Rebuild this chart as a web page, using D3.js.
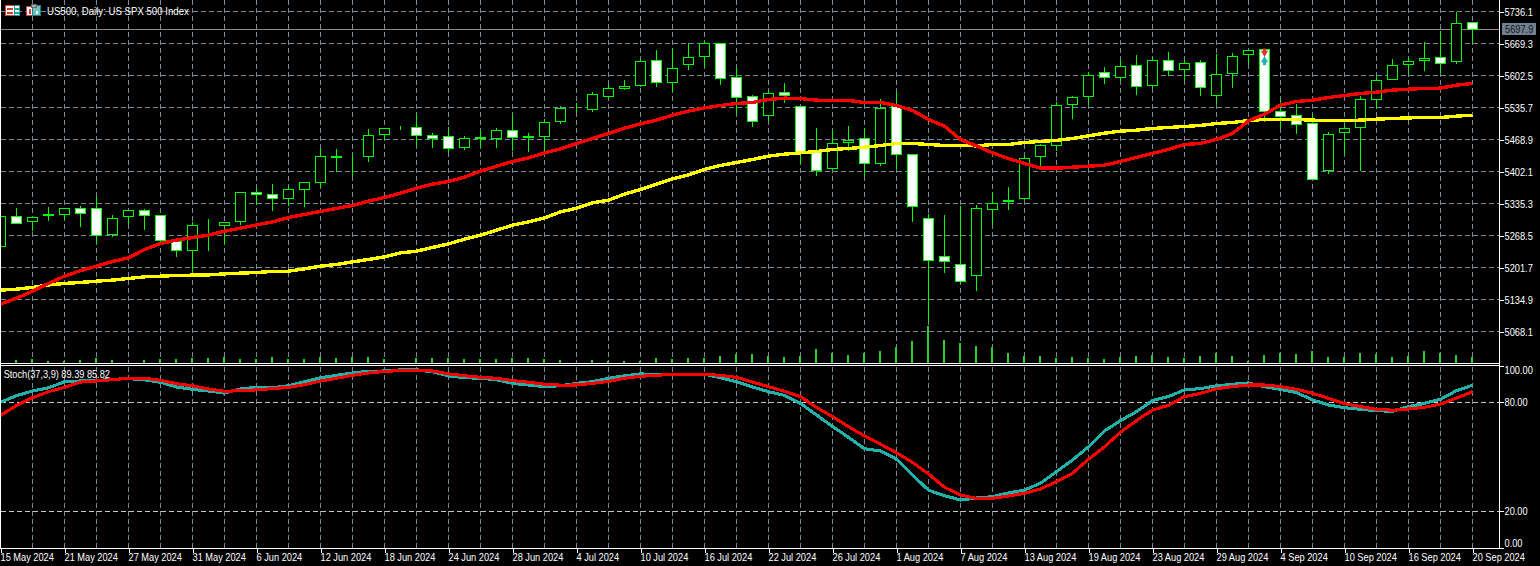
<!DOCTYPE html>
<html>
<head>
<meta charset="utf-8">
<script src="https://d3js.org/d3.v7.min.js"></script>
<style>
html,body{margin:0;padding:0;background:#000;overflow:hidden}
svg{display:block}
text{font-family:"Liberation Sans",Arial,sans-serif;font-size:11px}
</style>
</head>
<body>
<svg id="c" width="1540" height="566"></svg>
<script>
const dateLabels=["15 May 2024","21 May 2024","27 May 2024","31 May 2024","6 Jun 2024","12 Jun 2024","18 Jun 2024","24 Jun 2024","28 Jun 2024","4 Jul 2024","10 Jul 2024","16 Jul 2024","22 Jul 2024","26 Jul 2024","1 Aug 2024","7 Aug 2024","13 Aug 2024","19 Aug 2024","23 Aug 2024","29 Aug 2024","4 Sep 2024","10 Sep 2024","16 Sep 2024","20 Sep 2024"];
const priceTicks=[5736.1,5669.3,5602.5,5535.7,5468.9,5402.1,5335.3,5268.5,5201.7,5134.9,5068.1];
const stochTicks=[100,80,20,0];
const lastPrice=5697.9;
const openP=[5244.8,5307.4,5297.8,5309.9,5312.4,5324.9,5324.9,5269.8,5307.4,5320.8,5310.3,5256.7,5237.2,5291.0,5288.6,5297.0,5358.3,5354.2,5344.9,5363.8,5378.4,5434.1,5429.0,5433.5,5479.4,5493.8,5494.0,5477.3,5474.4,5452.3,5470.6,5470.2,5487.8,5472.8,5474.4,5505.7,5533.5,5530.8,5557.9,5574.6,5580.9,5633.9,5587.1,5624.7,5641.4,5669.3,5598.4,5558.7,5518.2,5567.1,5537.0,5443.9,5407.6,5461.9,5471.1,5418.8,5538.5,5437.6,5304.0,5224.7,5208.0,5185.1,5322.8,5339.8,5345.8,5433.1,5456.0,5541.2,5557.9,5608.8,5598.4,5623.4,5580.9,5633.9,5614.3,5629.7,5560.0,5605.9,5645.6,5656.8,5527.4,5519.0,5501.9,5403.4,5482.7,5494.0,5552.5,5593.4,5625.5,5633.0,5640.1,5631.0,5713.2];
const closeP=[5308.9,5294.2,5306.1,5312.0,5324.9,5314.5,5268.6,5304.0,5320.8,5310.3,5258.1,5237.2,5289.4,5291.5,5295.7,5358.3,5353.3,5344.9,5364.6,5379.2,5433.5,5431.4,5429.3,5477.3,5491.9,5494.0,5476.5,5470.2,5450.2,5471.1,5472.6,5487.8,5473.1,5474.9,5504.4,5533.7,5534.0,5562.9,5575.4,5579.6,5631.8,5587.1,5617.2,5640.1,5669.3,5596.3,5555.8,5505.7,5565.0,5561.4,5442.5,5404.2,5460.6,5466.9,5418.8,5534.3,5437.6,5329.1,5216.4,5213.4,5172.5,5324.9,5334.5,5341.9,5429.3,5456.4,5539.9,5556.6,5602.6,5598.4,5621.3,5579.6,5633.9,5612.2,5627.6,5577.5,5604.7,5642.2,5654.7,5527.4,5516.1,5499.4,5385.0,5479.4,5491.9,5552.5,5592.1,5623.4,5631.8,5638.0,5627.6,5711.1,5697.9];
const highP=[5317.2,5327.0,5306.8,5329.7,5325.5,5331.8,5350.6,5313.0,5321.4,5325.5,5310.3,5264.4,5297.8,5304.0,5298.4,5361.0,5368.8,5377.7,5372.9,5381.3,5450.2,5450.2,5439.7,5492.5,5492.5,5498.8,5523.2,5484.2,5495.3,5477.3,5490.5,5494.0,5523.2,5484.2,5513.4,5540.6,5545.4,5569.8,5585.9,5594.2,5638.0,5657.5,5661.0,5671.5,5673.5,5671.5,5620.5,5562.9,5573.3,5588.6,5538.5,5494.6,5489.8,5498.2,5493.2,5555.2,5569.2,5440.4,5314.5,5313.0,5331.8,5333.9,5359.6,5371.5,5436.2,5461.2,5548.3,5561.4,5610.1,5622.0,5636.0,5647.0,5641.4,5653.3,5636.0,5636.6,5648.5,5651.2,5658.1,5659.5,5554.5,5544.1,5523.2,5486.3,5500.9,5560.0,5603.2,5638.7,5641.4,5673.5,5696.5,5736.1,5713.2];
const lowP=[5244.0,5294.2,5279.6,5300.5,5302.6,5288.0,5254.6,5267.1,5294.2,5281.7,5254.6,5225.3,5192.6,5236.4,5250.4,5292.2,5332.4,5319.9,5330.4,5328.2,5370.0,5401.3,5393.0,5422.2,5469.6,5490.5,5455.6,5451.4,5443.1,5447.2,5453.5,5452.9,5446.6,5444.5,5445.2,5501.5,5528.0,5528.0,5555.8,5572.5,5579.6,5578.8,5568.3,5615.7,5622.0,5584.4,5523.2,5496.7,5507.8,5545.4,5418.8,5393.0,5405.5,5445.2,5394.5,5415.3,5408.4,5296.9,5088.2,5190.5,5167.5,5152.9,5290.7,5322.0,5342.9,5413.2,5445.2,5512.0,5542.6,5585.0,5591.3,5562.1,5577.5,5603.2,5593.4,5560.0,5543.3,5578.2,5626.2,5505.7,5494.0,5480.7,5385.0,5397.1,5440.4,5404.9,5532.8,5593.4,5605.9,5613.6,5608.0,5628.2,5671.5];
const volumeV=[0,3,4,2,2,3,5,3,0,3,4,4,5,5,6,4,4,6,4,4,6,5,6,6,4,0,5,5,5,4,4,4,5,5,4,3,0,3,2,2,2,5,4,5,5,7,9,9,7,6,7,14,10,8,10,12,16,22,37,23,20,17,16,10,7,7,5,6,5,4,6,7,8,6,5,7,10,7,2,8,10,9,12,6,6,10,9,6,7,12,10,8,6];
const maRed=[5125.2,5137.7,5152.3,5168.4,5183.6,5195.1,5204.5,5214.3,5221.8,5239.3,5251.9,5258.8,5264.4,5269.2,5277.5,5283.8,5290.7,5296.9,5306.1,5312.4,5318.7,5324.9,5331.2,5340.2,5348.1,5356.8,5367.3,5375.6,5381.3,5390.3,5402.8,5413.2,5423.0,5430.5,5441.0,5449.3,5460.6,5471.1,5481.5,5492.5,5501.5,5509.3,5519.7,5528.0,5534.9,5539.9,5544.1,5546.2,5552.5,5555.2,5554.5,5551.0,5550.4,5550.4,5546.2,5546.2,5539.9,5529.5,5510.7,5496.7,5468.9,5455.6,5441.0,5429.3,5418.8,5409.0,5409.0,5411.1,5413.2,5415.3,5423.0,5431.4,5439.7,5448.1,5458.5,5460.6,5468.9,5481.5,5507.8,5521.8,5540.6,5548.3,5551.0,5556.6,5560.8,5565.0,5567.7,5571.9,5574.0,5575.4,5576.1,5582.3,5585.9];
const maYellow=[5154.4,5156.5,5160.0,5165.4,5168.4,5170.5,5173.2,5175.3,5178.8,5182.2,5183.6,5185.1,5185.7,5186.3,5188.4,5189.9,5191.3,5193.4,5194.0,5198.8,5204.5,5208.0,5213.4,5218.5,5223.9,5232.2,5235.8,5243.5,5251.0,5260.8,5269.2,5279.6,5290.1,5296.9,5305.3,5317.8,5325.5,5336.6,5342.3,5354.8,5364.6,5375.6,5386.7,5395.0,5406.3,5414.7,5420.9,5427.2,5434.1,5438.3,5441.0,5443.9,5448.1,5450.2,5452.9,5456.4,5460.6,5460.6,5458.5,5456.4,5456.4,5455.6,5458.5,5458.5,5462.7,5464.8,5467.1,5471.1,5476.5,5482.1,5486.3,5488.4,5491.9,5494.0,5496.1,5498.2,5502.3,5504.4,5508.6,5510.7,5510.7,5510.7,5509.3,5508.6,5508.6,5509.3,5511.3,5512.8,5514.0,5514.9,5514.9,5517.6,5519.7];
const stochMain=[80.0,83.6,86.2,87.9,91.3,91.7,91.9,92.6,93.0,92.3,91.0,88.4,87.1,86.2,85.0,87.3,88.2,88.0,89.1,91.3,93.5,94.8,96.1,97.0,97.2,97.8,97.9,96.7,94.5,93.5,93.2,92.4,90.4,89.5,88.6,89.1,90.4,91.3,93.2,94.5,95.6,95.2,95.4,95.4,95.4,93.5,91.3,88.4,85.8,83.8,79.4,73.0,66.6,60.7,54.4,53.2,48.6,39.9,31.6,28.6,26.2,27.3,28.0,30.1,31.7,35.4,41.8,48.2,55.5,64.2,69.9,74.8,80.9,83.1,86.8,87.5,89.0,89.9,90.6,88.6,87.1,85.3,81.3,78.5,77.0,76.1,75.4,75.0,77.6,79.4,81.6,86.4,89.39];
const stochSignal=[72.8,78.1,82.5,85.8,88.2,91.1,91.7,92.4,93.2,93.2,92.1,90.2,89.0,87.3,86.0,86.4,86.8,87.5,88.2,89.7,91.7,93.2,94.8,96.1,97.0,97.4,97.4,97.2,95.6,94.6,93.7,93.2,91.9,91.0,89.9,89.4,89.5,90.4,91.5,93.2,94.3,94.8,95.4,95.4,95.4,94.8,93.7,91.1,88.6,86.0,83.1,77.1,72.1,66.6,61.4,56.9,52.2,46.9,40.5,33.2,28.9,27.1,27.1,28.4,29.9,32.3,36.3,40.9,48.6,55.5,63.5,69.9,75.7,78.3,83.1,84.9,87.5,88.6,89.5,89.5,88.6,87.1,84.9,82.2,79.2,77.6,76.1,75.6,76.3,77.2,79.0,82.3,85.82];
const tradeIndex=79, tradeSell=5651.8, tradeBuy=5632.4;
const titleText="US500, Daily:  US SPX 500 Index";
const stochText="Stoch(37,3,9) 89.39 85.82";

const n=openP.length, idx=d3.range(n);
const svg=d3.select("#c");
const x=d3.scaleLinear().domain([0,92]).range([0.5,1472.5]);
const yP=d3.scaleLinear().domain([5068.1,5736.1]).range([331.5,11.5]);
const yV=d3.scaleLinear().domain([0,37]).range([363,326]);
const yS=d3.scaleLinear().domain([0,100]).range([547.6,365.9]);
const snap=v=>Math.round(v-0.5)+0.5;
const GRID="#778899", GREEN="#00ff00", DASH="5,3";

const grid=svg.append("g").attr("stroke",GRID).attr("stroke-dasharray",DASH).attr("shape-rendering","crispEdges");
grid.selectAll("line.h").data(priceTicks).join("line").attr("x1",1).attr("x2",1499).attr("y1",d=>snap(yP(d))).attr("y2",d=>snap(yP(d)));
grid.selectAll("line.vt").data(d3.range(2,93,2)).join("line").attr("x1",d=>x(d)).attr("x2",d=>x(d)).attr("y1",0).attr("y2",363);
const grid2=svg.append("g").attr("stroke",GRID).attr("stroke-dasharray",DASH).attr("shape-rendering","crispEdges");
grid2.selectAll("line").data(d3.range(2,93,2)).join("line").attr("x1",d=>x(d)).attr("x2",d=>x(d)).attr("y1",367).attr("y2",548);
const lvl=svg.append("g").attr("stroke","#c8c8c8").attr("stroke-dasharray",DASH).attr("shape-rendering","crispEdges");
lvl.selectAll("line").data([80,20]).join("line").attr("x1",1).attr("x2",1499).attr("y1",d=>snap(yS(d))).attr("y2",d=>snap(yS(d)));

svg.append("line").attr("x1",1).attr("x2",1499).attr("y1",snap(yP(lastPrice))).attr("y2",snap(yP(lastPrice))).attr("stroke","#8c8c8c").attr("shape-rendering","crispEdges");

svg.append("g").attr("fill","#32cd32").attr("shape-rendering","crispEdges").selectAll("rect").data(idx.filter(i=>volumeV[i]>0)).join("rect")
 .attr("x",i=>x(i)-1.5).attr("width",2).attr("y",i=>yV(volumeV[i])).attr("height",i=>yV(0)-yV(volumeV[i]));

const cg=svg.append("g").attr("shape-rendering","crispEdges");
cg.selectAll("line").data(idx).join("line").attr("x1",i=>x(i)).attr("x2",i=>x(i)).attr("y1",i=>snap(yP(highP[i]))).attr("y2",i=>snap(yP(lowP[i]))).attr("stroke",GREEN);
cg.selectAll("rect").data(idx).join("rect")
 .attr("x",i=>x(i)-5).attr("width",10)
 .attr("y",i=>snap(yP(Math.max(openP[i],closeP[i]))))
 .attr("height",i=>snap(yP(Math.min(openP[i],closeP[i])))-snap(yP(Math.max(openP[i],closeP[i]))))
 .attr("fill",i=>closeP[i]>=openP[i]?"#000":"#fff").attr("stroke",GREEN);

const lineP=d3.line().x((d,i)=>x(i)).y(d=>yP(d));
const lineS=d3.line().x((d,i)=>x(i)).y(d=>yS(d));
const addLine=(arr,gen,col,w)=>svg.append("path").attr("d",gen(arr)).attr("fill","none").attr("stroke",col).attr("stroke-width",w).attr("shape-rendering","crispEdges");
addLine(maYellow,lineP,"#ffff00",3.4);
addLine(maRed,lineP,"#ff0000",3.4);
addLine(stochMain,lineS,"#20b2aa",3.1);
addLine(stochSignal,lineS,"#ff0000",3.1);

// trade arrows
const tx=x(tradeIndex);
svg.append("line").attr("x1",tx).attr("x2",tx).attr("y1",yP(tradeSell)).attr("y2",yP(tradeBuy)).attr("stroke","#20b2aa").attr("stroke-dasharray","1,2").attr("shape-rendering","crispEdges");
const tri=d3.symbol().type(d3.symbolTriangle).size(22);
svg.append("rect").attr("x",tx-1.5).attr("y",yP(tradeSell)-3.5).attr("width",3).attr("height",4).attr("fill","#e0312a");
svg.append("path").attr("d",tri()).attr("transform",`translate(${tx},${yP(tradeSell)+1}) rotate(180)`).attr("fill","#e0312a");
svg.append("rect").attr("x",tx-1.5).attr("y",yP(tradeBuy)).attr("width",3).attr("height",4).attr("fill","#20b2aa");
svg.append("path").attr("d",tri()).attr("transform",`translate(${tx},${yP(tradeBuy)-1})`).attr("fill","#20b2aa");

// frame
const fr=svg.append("g").attr("stroke","#fff").attr("shape-rendering","crispEdges");
[[0.5,0,0.5,548],[1499.5,0,1499.5,548],[0,363.5,1500,363.5],[0,365.5,1500,365.5],[0,548.5,1500,548.5]].forEach(a=>fr.append("line").attr("x1",a[0]).attr("y1",a[1]).attr("x2",a[2]).attr("y2",a[3]));

// text narrowing: the original terminal face is narrower than the installed ones
const squeeze=(sel,k)=>sel.each(function(){this.setAttribute("textLength",(this.getComputedTextLength()*k).toFixed(1));this.setAttribute("lengthAdjust","spacingAndGlyphs");});

// axes
const FONT='"Liberation Sans",Arial,sans-serif';
const axP=svg.append("g").attr("transform","translate(1499.5,0)").call(d3.axisRight(yP).tickValues(priceTicks).tickFormat(d3.format(".1f")).tickSize(4).tickSizeOuter(0));
const axS=svg.append("g").attr("transform","translate(1499.5,0)").call(d3.axisRight(yS).tickValues(stochTicks).tickFormat(d3.format(".2f")).tickSize(4).tickSizeOuter(0));
const axT=svg.append("g").attr("transform","translate(0,548.5)").call(d3.axisBottom(x).tickValues(dateLabels.map((d,i)=>i*4)).tickFormat(d=>dateLabels[d/4]).tickSize(4).tickSizeOuter(0));
[axP,axS,axT].forEach(a=>{a.select(".domain").remove();a.selectAll("line").attr("stroke","#fff").attr("shape-rendering","crispEdges");a.selectAll("text").attr("fill","#fff").style("font-family",FONT).style("font-size","11px");});
axP.selectAll("text").attr("x",5);
axS.selectAll("text").attr("x",5).attr("dy",d=>d===100?"0.72em":d===0?"-0.1em":"0.32em");
axT.selectAll("text").attr("text-anchor","start").attr("y",5).attr("dy","0.71em").attr("dx",-0.5);
squeeze(axP.selectAll("text"),0.84);
squeeze(axS.selectAll("text"),0.84);
squeeze(axT.selectAll("text"),0.84);

// last price label
svg.append("rect").attr("x",1502).attr("y",23).attr("width",34).attr("height",12).attr("fill","#708090");
squeeze(svg.append("text").attr("x",1505).attr("y",33).attr("fill","#141414").text(d3.format(".1f")(lastPrice)),0.84);

// titles
squeeze(svg.append("text").attr("x",47).attr("y",14.5).attr("fill","#fff").text(titleText),0.875);
squeeze(svg.append("text").attr("x",3.7).attr("y",378).attr("fill","#fff").text(stochText),0.835);

// toolbar icons
const ic=svg.append("g").attr("shape-rendering","crispEdges");
[[5.5,5.5,9,10,"#fff","#d04030"],[14.5,5.5,5,10,"#fff","#20a0a0"],[7,8,6,2,"#d04030","none"],[7,12,6,2,"#d04030","none"],[15,8,4,2,"#20a0a0","none"],[15,12,4,2,"#20a0a0","none"],
 [26.5,6.5,6,9,"#fff","#d04030"],[32.5,5.5,8,10,"#70c0c0","#208080"],[31,4,5,3,"#aaa","#666"],[29,9,2,5,"#d04030","none"],[36,11,2,3,"#fff","none"]]
 .forEach(a=>ic.append("rect").attr("x",a[0]).attr("y",a[1]).attr("width",a[2]).attr("height",a[3]).attr("fill",a[4]).attr("stroke",a[5]));
</script>
</body>
</html>
